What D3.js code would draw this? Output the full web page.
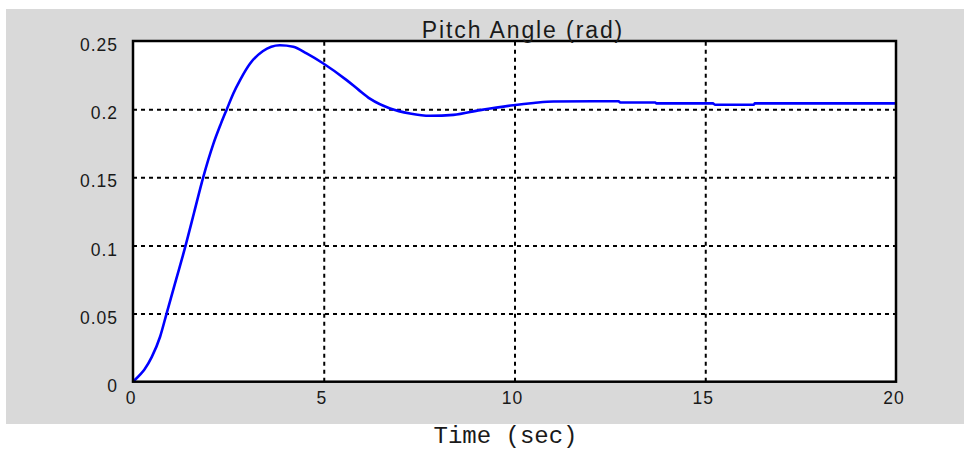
<!DOCTYPE html>
<html>
<head>
<meta charset="utf-8">
<script src="https://cdn.jsdelivr.net/npm/d3@7"></script>
<style>
  html, body { margin: 0; padding: 0; background: #ffffff; }
  svg { display: block; }
  .tick-label { font-family: "Liberation Sans", Arial, sans-serif; font-size: 17.5px; fill: #1a1a1a; letter-spacing: 1px; }
</style>
</head>
<body>
<div id="chart"></div>
<script>
// Pitch angle step response
const timeSec = [0, 0.18, 0.3, 0.49, 0.71, 0.88, 1.1, 1.38, 1.6, 1.84, 2.1, 2.3, 2.46, 2.63, 2.81, 3.07, 3.4,
  3.85, 4.2, 4.55, 4.99, 5.6, 5.9, 6.22, 6.74, 7.26, 7.79, 8.4, 9.1, 9.97, 10.5, 11.02, 12.73, 12.77, 13.69, 13.72,
  15.2, 15.26, 16.27, 16.3, 20];
const pitchRad = [0, 0.005, 0.009, 0.018, 0.033, 0.05, 0.072, 0.1, 0.124, 0.15, 0.174, 0.189, 0.2, 0.2115, 0.2215,
  0.2335, 0.2425, 0.2469, 0.2458, 0.2409, 0.2335, 0.2213, 0.2145, 0.2075, 0.2005, 0.1968, 0.1951, 0.1958, 0.1993, 0.2029,
  0.2045, 0.2056, 0.2058, 0.2049, 0.2049, 0.2042, 0.2042, 0.2032, 0.2032, 0.2042, 0.2042];

const xTicks = [0, 5, 10, 15, 20];
const yTicks = [0, 0.05, 0.1, 0.15, 0.2, 0.25];
const yTickLabels = ["0", "0.05", "0.1", "0.15", "0.2", "0.25"];
const titleText = "Pitch Angle (rad)";
const xLabelText = "Time (sec)";

const W = 964, H = 450;
const plot = { left: 133, right: 896, top: 41, bottom: 381.7 };

const svg = d3.select("#chart").append("svg")
    .attr("width", W)
    .attr("height", H);

// gray figure background
svg.append("rect")
    .attr("x", 6).attr("y", 9)
    .attr("width", W - 6).attr("height", 415)
    .attr("fill", "#d9d9d9");

const x = d3.scaleLinear().domain([0, 20]).range([plot.left, plot.right]);
const y = d3.scaleLinear().domain([0, 0.25]).range([plot.bottom, plot.top]);

// white axes area
svg.append("rect")
    .attr("x", plot.left).attr("y", plot.top)
    .attr("width", plot.right - plot.left)
    .attr("height", plot.bottom - plot.top)
    .attr("fill", "#ffffff");

// dotted grid
const gridX = svg.append("g")
    .attr("transform", `translate(0,${plot.bottom})`)
    .call(d3.axisBottom(x).tickValues(xTicks.slice(1, -1)).tickSize(-(plot.bottom - plot.top)).tickFormat(""));
const gridY = svg.append("g")
    .attr("transform", `translate(${plot.left},0)`)
    .call(d3.axisLeft(y).tickValues(yTicks.slice(1, -1)).tickSize(-(plot.right - plot.left)).tickFormat(""));
[gridX, gridY].forEach(g => {
    g.select(".domain").remove();
    g.selectAll(".tick line")
        .attr("stroke", "#000")
        .attr("stroke-width", 2)
        .attr("stroke-dasharray", "4,4");
});

// response curve
const line = d3.line()
    .x((d, i) => x(timeSec[i]))
    .y(d => y(d))
    .curve(d3.curveMonotoneX);

svg.append("path")
    .datum(pitchRad)
    .attr("fill", "none")
    .attr("stroke", "#0000ff")
    .attr("stroke-width", 2.6)
    .attr("stroke-linejoin", "round")
    .attr("d", line);

// frame
svg.append("rect")
    .attr("x", plot.left).attr("y", plot.top)
    .attr("width", plot.right - plot.left)
    .attr("height", plot.bottom - plot.top)
    .attr("fill", "none")
    .attr("stroke", "#000")
    .attr("stroke-width", 2.5);

// tick labels
const xAxis = svg.append("g")
    .attr("transform", `translate(-2.5,${plot.bottom})`)
    .call(d3.axisBottom(x).tickValues(xTicks).tickSize(0).tickPadding(0).tickFormat(d3.format("d")));
xAxis.select(".domain").remove();
xAxis.selectAll("text")
    .attr("class", "tick-label")
    .attr("font-size", null).attr("font-family", null)
    .attr("y", 22.3).attr("dy", null);

const yAxis = svg.append("g")
    .attr("transform", `translate(118,0)`)
    .call(d3.axisLeft(y).tickValues(yTicks).tickSize(0).tickPadding(0).tickFormat((d, i) => yTickLabels[i]));
yAxis.select(".domain").remove();
yAxis.selectAll("text")
    .attr("class", "tick-label")
    .attr("font-size", null).attr("font-family", null)
    .attr("x", 0).attr("dy", null).attr("y", 9.7);

// title
svg.append("text")
    .attr("x", 523)
    .attr("y", 37.5)
    .attr("text-anchor", "middle")
    .style("font-family", '"Liberation Sans", Arial, sans-serif')
    .style("font-size", "23px")
    .style("letter-spacing", "1.9px")
    .style("fill", "#1a1a1a")
    .text(titleText);

// x label below the figure
svg.append("text")
    .attr("x", 505.5)
    .attr("y", 443)
    .attr("text-anchor", "middle")
    .style("font-family", '"Courier New", "Liberation Mono", monospace')
    .style("font-size", "24px")
    .style("fill", "#1a1a1a")
    .text(xLabelText);
</script>
</body>
</html>
